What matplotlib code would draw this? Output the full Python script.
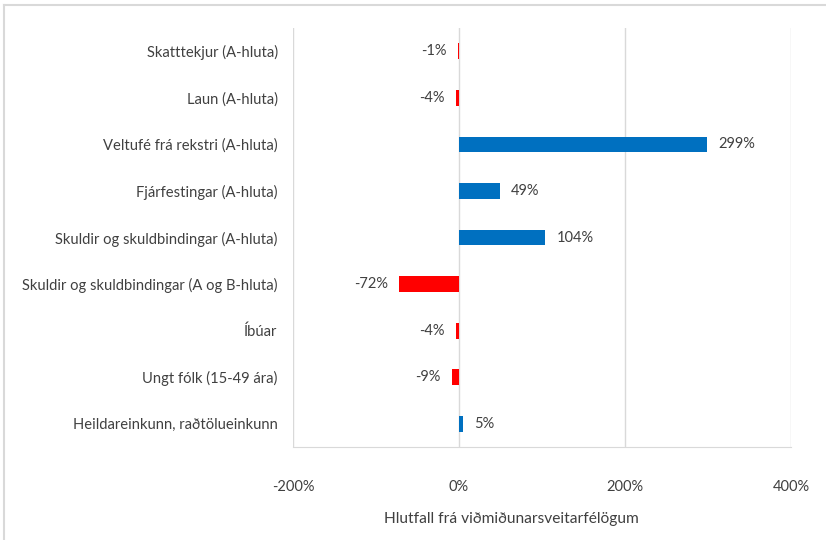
import matplotlib.pyplot as plt
from matplotlib.lines import Line2D

# Gögn
flokkar = ["Skatttekjur (A-hluta)", "Laun (A-hluta)", "Veltufé frá rekstri (A-hluta)",
           "Fjárfestingar (A-hluta)", "Skuldir og skuldbindingar (A-hluta)",
           "Skuldir og skuldbindingar (A og B-hluta)", "Íbúar", "Ungt fólk (15-49 ára)",
           "Heildareinkunn, raðtölueinkunn"]
gildi = [-1, -4, 299, 49, 104, -72, -4, -9, 5]
xticks = [-200, 0, 200, 400]

plt.rcParams['font.family'] = ['Lato', 'DejaVu Sans']
txt = "#404040"
grid = "#D9D9D9"

fig = plt.figure(figsize=(8.26, 5.40), dpi=100)
ax = fig.add_axes([0.3547, 0.1722, 0.6029, 0.7758])

litir = ["#0070C0" if v >= 0 else "#FF0000" for v in gildi]
y = list(range(len(flokkar)))
ax.barh(y, gildi, height=0.34, color=litir, zorder=3)

for yi, v in zip(y, gildi):
    if v >= 0:
        ax.annotate(f"{v}%", (v, yi), xytext=(8, 0), textcoords="offset points",
                    ha="left", va="center", fontsize=10.5, color=txt)
    else:
        ax.annotate(f"{v}%", (v, yi), xytext=(-8, 0), textcoords="offset points",
                    ha="right", va="center", fontsize=10.5, color=txt)

ax.set_xlim(-200, 400)
ax.set_ylim(len(flokkar) - 0.5, -0.5)
ax.set_xticks(xticks)
ax.set_xticklabels([f"{t}%" for t in xticks])
ax.set_yticks(y)
ax.set_yticklabels(flokkar)
ax.tick_params(axis="x", length=0, pad=24, labelsize=10.5, colors=txt)
ax.tick_params(axis="y", length=0, pad=11, labelsize=10.6, colors=txt)
ax.xaxis.grid(True, color=grid, linewidth=1, zorder=0)
for s in ["top", "right", "left"]:
    ax.spines[s].set_visible(False)
ax.spines["bottom"].set_color(grid)
ax.set_xlabel("Hlutfall frá viðmiðunarsveitarfélögum", fontsize=11.2, color=txt, labelpad=12)
ax.xaxis.set_label_coords(0.438, -0.155)

# rammi um myndina
fig.add_artist(Line2D([0.005, 1.0], [0.99, 0.99], transform=fig.transFigure, color=grid, lw=1.5))
fig.add_artist(Line2D([0.005, 0.005], [0.0, 0.99], transform=fig.transFigure, color=grid, lw=1.5))

fig.savefig("out.png", dpi=100)
